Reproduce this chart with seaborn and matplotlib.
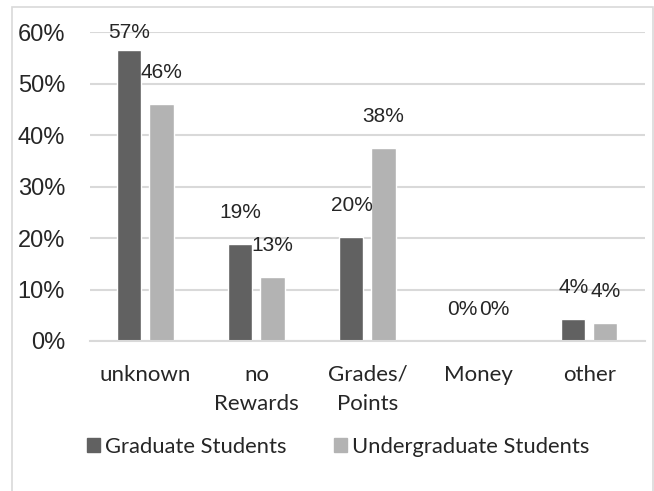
import matplotlib
matplotlib.use("Agg")
import matplotlib.pyplot as plt
import pandas as pd
import seaborn as sns
from matplotlib.patches import Rectangle

categories = ["unknown", "no\nRewards", "Grades/\nPoints", "Money", "other"]
groups = ["Graduate Students", "Undergraduate Students"]
graduate = [0.565, 0.188, 0.202, 0.0, 0.043]
undergraduate = [0.460, 0.124, 0.375, 0.0, 0.035]
labels_grad = ["57%", "19%", "20%", "0%", "4%"]
labels_under = ["46%", "13%", "38%", "0%", "4%"]
y_ticks = [0, 0.1, 0.2, 0.3, 0.4, 0.5, 0.6]
colors = ["#616161", "#b3b3b3"]

df = pd.DataFrame({
	"category": categories * 2,
	"group": [groups[0]] * len(categories) + [groups[1]] * len(categories),
	"value": graduate + undergraduate,
})

sns.set_style("white")
plt.rcParams["font.family"] = ["Liberation Sans", "DejaVu Sans"]

fig = plt.figure(figsize=(6.54, 4.91), dpi=100)
ax = fig.add_axes([0.1376, 0.3055, 0.8486, 0.6293])

sns.barplot(
	data=df, x="category", y="value", hue="group", palette=colors,
	width=0.577, gap=0.25, ax=ax, legend=False, saturation=1,
)

ax.set_ylim(0, 0.6)
ax.set_xlim(-0.5, len(categories) - 0.5)
ax.set_yticks(y_ticks)
ax.set_yticklabels([f"{int(round(t * 100))}%" for t in y_ticks], fontsize=17)
ax.yaxis.grid(True, color="#d9d9d9", linewidth=1.5)
ax.set_axisbelow(True)
for side in ["top", "right", "left"]:
	ax.spines[side].set_visible(False)
ax.spines["bottom"].set_color("#d9d9d9")
ax.spines["bottom"].set_linewidth(1.5)
ax.tick_params(axis="y", length=0, pad=18)
ax.tick_params(axis="x", length=0, pad=17)
ax.set_xlabel("")
ax.set_ylabel("")
for lbl in ax.get_xticklabels():
	lbl.set_family("Lato")
	lbl.set_fontsize(16)
	lbl.set_linespacing(1.6)
	lbl.set_verticalalignment("top")

# data labels above each bar (the tallest one is kept inside the plot)
for container, texts in zip(ax.containers, [labels_grad, labels_under]):
	for bar, txt in zip(container, texts):
		y = min(bar.get_height() + 0.043, 0.58)
		ax.text(bar.get_x() + bar.get_width() / 2, y, txt,
			ha="center", va="bottom", fontsize=15)

handles = [Rectangle((0, 0), 1, 1, color=c) for c in colors]
fig.legend(handles, groups, loc="center", bbox_to_anchor=(0.517, 0.0896),
	ncol=2, frameon=False, prop={"family": "Lato", "size": 15.8},
	handlelength=0.6, handleheight=0.6, handletextpad=0.2, columnspacing=2.2)

fig.patches.append(Rectangle((12 / 654, -0.05), 641 / 654, 1 - 7 / 491 + 0.05,
	transform=fig.transFigure, fill=False, edgecolor="#d9d9d9", linewidth=1.2))

fig.savefig("out.png", dpi=100)
